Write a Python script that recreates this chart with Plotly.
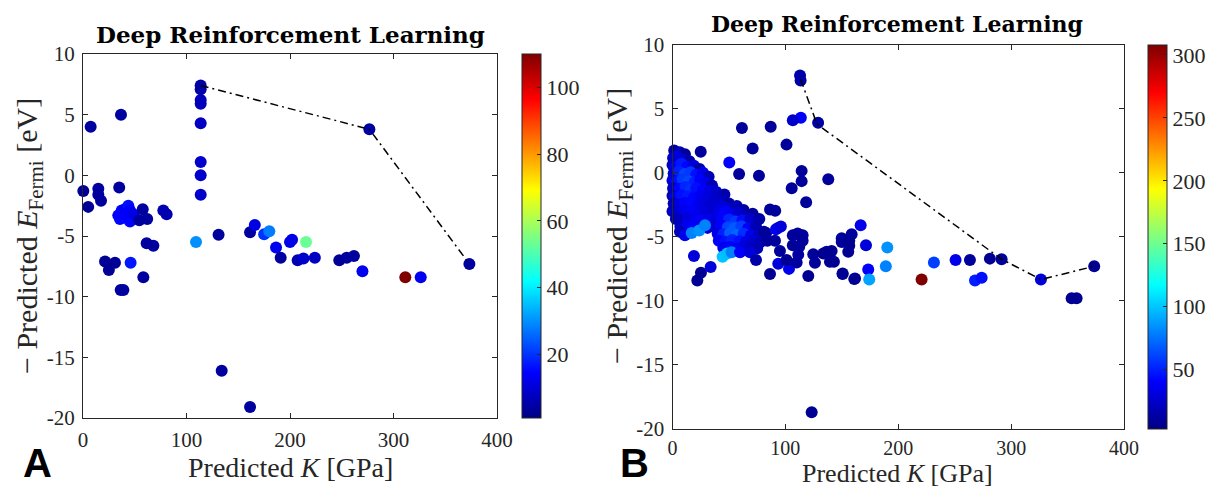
import plotly.graph_objects as go

# ---------------- Panel A: predicted K vs -E_Fermi (colour = step) ----------------
a_k = [0.3, 5, 7.4, 14.8, 14.8, 17.4, 36.7, 35,
       34.1, 37.4, 40.6, 43.8, 45.4, 35.7, 42, 45.4, 39, 48.6,
       54.4, 57.7, 62, 77.6, 80.8,
       21.3, 30.9, 25, 46,
       61.5, 68, 58.3, 36.4, 39,
       109.2,
       131, 134, 161.4, 161.4, 166, 175, 180, 186.5, 191, 200, 202, 207.4, 213,
       215.5, 224, 247.6, 254.8, 261.8, 270, 276.7, 311.4, 326.3, 373.3,
       113.7, 113.7, 113.7, 113.7, 113.7, 113.7, 113.7, 113.7]
a_e = [-1.3, -2.6, 4.0, -1.1, -1.6, -2.1, 5.0, -1.0,
       -3.3, -2.9, -2.8, -2.5, -2.9, -3.6, -3.5, -3.8, -3.2, -3.2,
       -3.7, -2.8, -3.6, -2.9, -3.2,
       -7.1, -7.2, -7.8, -7.2,
       -5.6, -5.8, -8.4, -9.45, -9.45,
       -5.5,
       -4.9, -16.1, -19.1, -4.7, -4.1, -4.85, -4.6, -5.95, -6.8, -5.5, -5.3, -7.0, -6.85,
       -5.5, -6.8, -7.0, -6.8, -6.65, -7.9, 3.8, -8.4, -8.4, -7.3,
       7.4, 7.1, 6.2, 5.9, 4.3, 1.1, 0.0, -1.6]
a_c = [3, 3, 4, 4, 4, 4, 4, 4,
       14, 15, 13, 16, 14, 15, 16, 15, 14, 12,
       4, 4, 4, 6, 6,
       3, 3, 3, 17,
       4, 4, 4, 4, 4,
       30,
       4, 4, 4, 4, 12, 20, 28, 13, 4, 13, 12, 6, 9,
       53, 8, 3, 4, 4, 13, 5, 110, 13, 4,
       5, 5, 7, 7, 8, 9, 9, 9]
a_front_k = [113.7, 276.7, 373.3]
a_front_e = [7.4, 3.8, -7.3]

# ---------------- Panel B ----------------
b_k = [
    # dense group at low K
    1.5, 6.5, 11, 25,
    0.5, 4, 9.5, 15,
    0, 3.5, 8, 13, 19, 24,
    1, 5.5, 11, 16, 21, 27, 32,
    0, 4, 9, 14.5, 19.5, 24.5, 30, 35,
    0.5, 6, 11.5, 16, 21, 27, 33, 39, 46,
    0, 3, 8, 13.5, 19, 25, 31, 37, 43, 50,
    1, 6, 11, 17, 22.5, 28, 33, 39, 45, 52, 57, 63,
    0, 5, 11, 17.5, 24, 29, 35, 41, 47, 53, 59, 65, 71,
    3, 8.5, 14, 20, 26.5, 32, 38, 44, 50, 56, 62, 69,
    7, 13, 19, 25, 31, 37, 43, 49, 55, 61, 67, 74,
    6.6, 11, 17, 23.7, 28.8, 40, 45, 51, 57, 63, 69.5, 77, 83,
    41, 47, 53, 59.5, 65, 71, 77.5, 84,
    45, 51, 57, 63.5, 69, 75,
    # scattered points
    113, 113.5, 129, 113.7, 106.6, 61.5, 87, 71, 101, 50.3,
    114.4, 114.4, 105.6, 138, 76.6, 59, 118.4, 86.4, 91, 76.9, 93.6,
    19, 25.2, 22, 33.8, 44.4, 48.5, 52.4, 59.8, 68.6, 74, 86.4, 93.7,
    103.2, 101.1, 95.2, 90.8, 81, 91.7, 96, 106.6, 110.9, 115.3, 106.6,
    112.3, 115.3, 111.4, 110, 120.3, 124.7, 126.2, 133.6, 136.6, 141,
    139.5, 143, 149.9, 149.9, 150.7, 156.6, 156.6, 155.7, 158.7, 161.7,
    166.7, 171.4, 173.4, 174.3, 189, 190.3, 161, 150.7, 123.3,
    220.7, 231.6, 250.8, 263.5, 281.2, 291.6, 268, 273.9, 326.4, 373.6,
    353.6, 358]
b_e = [
    1.75, 1.6, 1.45, 1.64,
    1.15, 1.3, 1.0, 0.9,
    0.6, 0.5, 0.7, 0.45, 0.55, 0.3,
    -0.05, 0.1, -0.1, 0.05, -0.15, 0.0, -0.3,
    -0.6, -0.7, -0.5, -0.65, -0.75, -0.55, -0.8, -1.0,
    -1.2, -1.25, -1.1, -1.3, -1.2, -1.35, -1.4, -1.5, -1.7,
    -1.8, -1.9, -1.75, -1.85, -1.95, -1.8, -2.0, -2.1, -2.2, -2.4,
    -2.4, -2.5, -2.35, -2.45, -2.55, -2.4, -2.6, -2.5, -2.65, -2.8, -2.6, -2.9,
    -3.0, -3.1, -2.95, -3.05, -3.15, -3.0, -3.2, -3.1, -3.0, -3.25, -3.1, -3.3, -3.2,
    -3.6, -3.7, -3.55, -3.65, -3.75, -3.6, -3.7, -3.55, -3.65, -3.8, -3.7, -3.6,
    -4.2, -4.1, -4.25, -4.15, -4.3, -4.2, -4.1, -4.25, -4.3, -4.2, -4.35, -4.2,
    -4.6, -4.87, -4.7, -4.5, -4.1, -4.75, -4.8, -4.7, -4.85, -4.75, -4.9, -4.8, -4.7,
    -5.3, -5.4, -5.25, -5.35, -5.4, -5.3, -5.45, -5.3,
    -5.85, -5.8, -5.9, -5.75, -5.85, -5.9,
    7.6, 7.2, 3.9, 4.3, 4.1, 3.5, 3.6, 1.9, 2.2, 0.8,
    0.15, -0.65, -1.2, -0.5, -0.23, -0.1, -2.3, -2.86, -2.97, -3.6, -4.3,
    -6.5, -7.8, -8.4, -7.35, -6.55, -6.3, -6.2, -6.2, -6.2, -6.8, -7.9, -7.1,
    -7.5, -6.8, -6.1, -5.3, -4.6, -4.4, -4.2, -4.87, -4.74, -4.87, -5.65,
    -5.78, -5.3, -6.4, -7.0, -8.05, -6.35, -7.03, -6.3, -6.17, -6.1,
    -6.95, -6.95, -5.1, -5.4, -7.86, -5.3, -5.7, -6.17, -4.8, -8.25,
    -4.1, -5.65, -7.55, -8.33, -7.3, -5.83, -8.3, -7.9, -18.7,
    -8.33, -7.0, -6.8, -6.8, -6.7, -6.75, -8.4, -8.2, -8.33, -7.3,
    -9.8, -9.8]
b_c = [
    12, 18, 10, 10,
    20, 30, 28, 14,
    22, 40, 48, 42, 30, 14,
    25, 50, 62, 58, 45, 35, 18,
    28, 45, 58, 62, 50, 40, 35, 18,
    22, 42, 52, 55, 45, 40, 32, 25, 16,
    18, 35, 45, 48, 42, 36, 30, 25, 22, 14,
    18, 30, 40, 42, 36, 32, 26, 28, 30, 26, 18, 12,
    20, 28, 36, 40, 36, 30, 26, 34, 40, 36, 26, 18, 10,
    18, 22, 30, 36, 40, 35, 30, 40, 52, 58, 44, 26,
    22, 36, 40, 32, 28, 28, 40, 62, 68, 60, 40, 18,
    20, 35, 80, 85, 80, 32, 50, 68, 72, 55, 36, 22, 14,
    40, 45, 50, 45, 36, 28, 18, 12,
    36, 40, 36, 30, 22, 18,
    15, 15, 12, 40, 25, 10, 10, 10, 10, 40,
    10, 10, 10, 10, 10, 10, 10, 10, 10, 15, 35,
    30, 8, 8, 30, 100, 98, 80, 40, 30, 15, 8, 30,
    35, 8, 10, 10, 10, 35, 30, 10, 10, 10, 10,
    10, 10, 12, 12, 8, 10, 10, 8, 8, 8,
    8, 8, 10, 10, 8, 8, 8, 8, 10, 8,
    35, 30, 40, 90, 80, 85, 8, 8, 8,
    308, 60, 35, 10, 8, 10, 50, 45, 30, 8,
    8, 8]
b_front_k = [113.5, 128, 291.6, 326.4, 373.6]
b_front_e = [7.3, 3.8, -6.75, -8.33, -7.3]

# MATLAB-style jet colormap
jet = [[0.0, "rgb(0,0,131)"], [0.125, "rgb(0,0,255)"], [0.375, "rgb(0,255,255)"],
       [0.625, "rgb(255,255,0)"], [0.875, "rgb(255,0,0)"], [1.0, "rgb(128,0,0)"]]

W, H = 1207, 489
SERIF = "Liberation Serif"
INK = "#262626"


def px(x):
    return x / W


def py(y):
    return 1 - y / H


def cbar(ticks, left, top, bottom):
    return dict(
        thicknessmode="pixels", thickness=19,
        lenmode="fraction", len=(bottom - top) / H,
        x=px(left), xanchor="left", y=py((top + bottom) / 2), yanchor="middle",
        xpad=0, ypad=0, outlinewidth=1, outlinecolor=INK,
        tickvals=ticks, ticks="inside", ticklen=4, tickcolor=INK,
        tickfont=dict(family=SERIF, size=22, color=INK),
    )


fig = go.Figure()

fig.add_trace(go.Scatter(
    x=a_k, y=a_e, mode="markers", xaxis="x", yaxis="y", cliponaxis=False,
    marker=dict(size=12, color=a_c, colorscale=jet, cmin=1, cmax=110,
                showscale=True, colorbar=cbar([20, 40, 60, 80, 100], 522, 54, 418)),
    showlegend=False))
fig.add_trace(go.Scatter(
    x=a_front_k, y=a_front_e, mode="lines", xaxis="x", yaxis="y",
    line=dict(color="black", width=1.5, dash="8px,4px,2px,4px"), showlegend=False))

fig.add_trace(go.Scatter(
    x=b_k, y=b_e, mode="markers", xaxis="x2", yaxis="y2", cliponaxis=False,
    marker=dict(size=12, color=b_c, colorscale=jet, cmin=3, cmax=308,
                showscale=True, colorbar=cbar([50, 100, 150, 200, 250, 300], 1148, 44.7, 429)),
    showlegend=False))
fig.add_trace(go.Scatter(
    x=b_front_k, y=b_front_e, mode="lines", xaxis="x2", yaxis="y2",
    line=dict(color="black", width=1.5, dash="8px,4px,2px,4px"), showlegend=False))

axis_style = dict(
    showline=True, linecolor=INK, linewidth=1, mirror="ticks",
    ticks="inside", ticklen=5, tickcolor=INK, showgrid=False, zeroline=False,
    tickfont=dict(family=SERIF, size=21, color=INK), ticklabelstandoff=3,
)
x2_style = dict(axis_style, ticklabelstandoff=1,
                tickfont=dict(family=SERIF, size=20, color=INK))

fig.update_layout(
    width=W, height=H, margin=dict(l=0, r=0, t=0, b=0, autoexpand=False),
    paper_bgcolor="white", plot_bgcolor="white",
    xaxis=dict(domain=[px(83), px(497)], range=[0, 400], anchor="y",
               tickvals=[0, 100, 200, 300, 400], **axis_style),
    yaxis=dict(domain=[py(418), py(54)], range=[-20, 10], anchor="x",
               tickvals=[-20, -15, -10, -5, 0, 5, 10],
               ticktext=["-20", "-15", "-10", "-5", "0", "5", "10"], **axis_style),
    xaxis2=dict(domain=[px(672.5), px(1124)], range=[0, 400], anchor="y2",
                tickvals=[0, 100, 200, 300, 400], **x2_style),
    yaxis2=dict(domain=[py(429), py(44.7)], range=[-20, 10], anchor="x2",
                tickvals=[-20, -15, -10, -5, 0, 5, 10],
                ticktext=["-20", "-15", "-10", "-5", "0", "5", "10"], **axis_style),
)

ylab = "\u2212 Predicted <i>E</i><sub>Fermi</sub> [eV]"
xlab = "Predicted <i>K</i> [GPa]"
title = "<b>Deep Reinforcement Learning</b>"
ann = [
    (title, 290, 35, 23, 0, "DejaVu Serif", "black"),
    (title, 897, 24, 22, 0, "DejaVu Serif", "black"),
    (xlab, 290, 467, 28, 0, SERIF, INK),
    (xlab, 897, 473, 26, 0, SERIF, INK),
    (ylab, 29, 236, 30, -90, SERIF, INK),
    (ylab, 619, 226, 30, -90, SERIF, INK),
    ("<b>A</b>", 37, 463, 40, 0, "Liberation Sans", "black"),
    ("<b>B</b>", 634, 463, 40, 0, "Liberation Sans", "black"),
]
for text, x, y, size, ang, fam, col in ann:
    fig.add_annotation(text=text, x=px(x), y=py(y), xref="paper", yref="paper",
                       xanchor="center", yanchor="middle", showarrow=False,
                       textangle=ang, borderpad=0,
                       font=dict(family=fam, size=size, color=col))

fig.write_html("out.html")
